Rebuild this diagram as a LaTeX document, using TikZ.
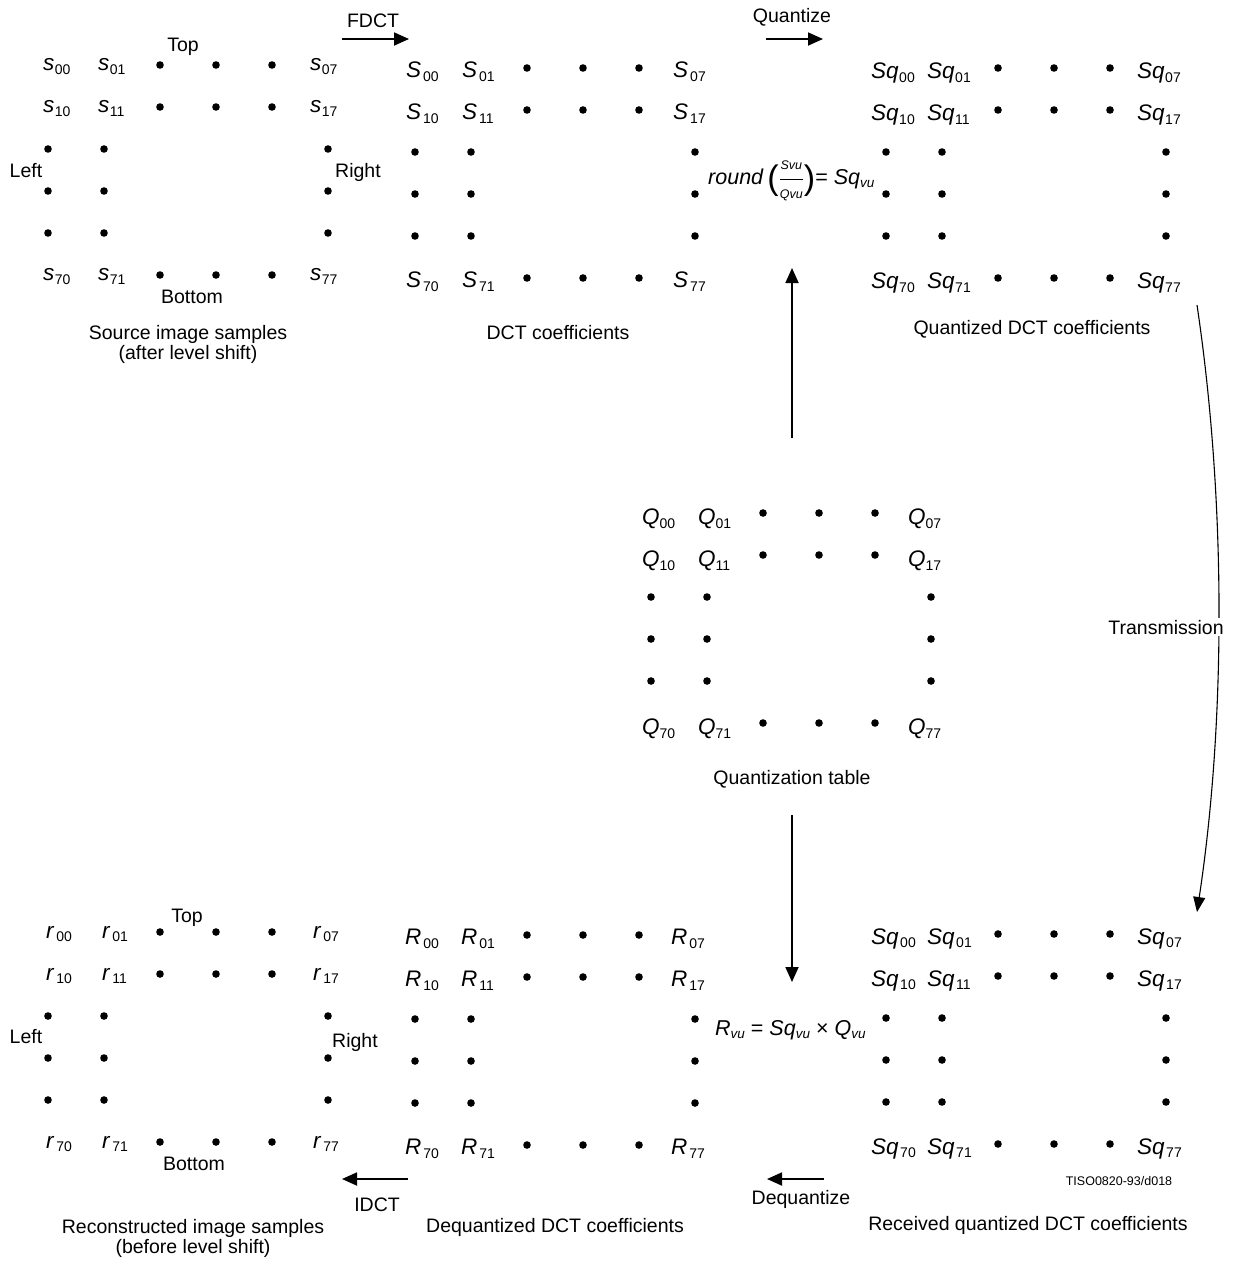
\documentclass[tikz,border=0pt]{standalone}
\usepackage{fontspec}
\setmainfont{Liberation Sans}
\usetikzlibrary{arrows.meta}
\newcommand\sbs[1]{\raisebox{-3.5pt}{\fontsize{13.5}{14}\selectfont #1}}
\newcommand\mlab[3]{{\fontsize{22.5}{24}\selectfont\itshape #1\/}\hspace{#3}\raisebox{-3.5pt}{\fontsize{14}{14}\selectfont #2}}
\tikzset{
  txt/.style={font=\fontsize{19.5}{20.5}\selectfont, inner sep=0pt},
  lab/.style={txt, anchor=base west},
  captxt/.style={txt, anchor=base},
  fml/.style={inner sep=0pt, font=\fontsize{21.5}{23}\selectfont},
  mdot/.style={circle, fill=black, inner sep=0pt, minimum size=7.6pt},
  arr/.style={line width=1.8pt, -{Triangle[length=15pt,width=13pt]}},
  tarr/.style={line width=1.1pt, -{Triangle[length=15pt,width=12pt]}},
}
% #1 name, #2 ox, #3 oy, #4 letter, #5 a, #6 b, #7 c, #8 d, #9 gap
\newcommand\drawmat[9]{%
 \foreach \rw/\ry in {0/0,1/42,7/210}{
   \foreach \cl/\cx/\off in {0/0/#5,1/56/#6,7/280/#7}{
     \node[lab] (#1-\rw\cl) at ({#2+\cx+(\off)}, {#3+\ry+#8}) {\mlab{#4}{\rw\cl}{#9}};
   }
   \foreach \cl/\cx in {2/112,3/168,4/224}{
     \node[mdot] (#1-d\rw\cl) at ({#2+\cx}, {#3+\ry}) {};
   }
 }
 \foreach \rw/\ry in {2/84,3/126,4/168}{
   \foreach \cl/\cx in {0/0,1/56,7/280}{
     \node[mdot] (#1-d\rw\cl) at ({#2+\cx}, {#3+\ry}) {};
   }
 }
}
\begin{document}
\begin{tikzpicture}[x=1pt, y=-1pt]
\useasboundingbox (0,0) rectangle (1232,1261);

% matrices
\drawmat{s}{48}{65}{s}{-5}{-6}{-18}{5.5}{0.5pt}
\drawmat{S}{415}{68}{S}{-9}{-9}{-22}{9.5}{2pt}
\drawmat{Sq}{886}{68}{Sq}{-15}{-15}{-29}{10.5}{0.5pt}
\drawmat{Q}{651}{513}{Q}{-9}{-9}{-23}{11.5}{0pt}
\drawmat{r}{48}{932}{r}{-2}{-2}{-15}{6}{2pt}
\drawmat{R}{415}{935}{R}{-10}{-10}{-24}{9.5}{2pt}
\drawmat{Sqb}{886}{934}{Sq}{-15}{-15}{-29}{10}{1.5pt}

% top-left side labels
\node[captxt] (topA) at (183,51) {Top};
\node[captxt] (leftA) at (26,177) {Left};
\node[captxt] (rightA) at (358,177) {Right};
\node[captxt] (botA) at (192,303) {Bottom};
\node[captxt] (capA1) at (188,339) {Source image samples};
\node[captxt] (capA2) at (188,359) {(after level shift)};

% top captions
\node[captxt] (fdct) at (373,27) {FDCT};
\node[captxt] (quant) at (792,22) {Quantize};
\node[captxt] (capB) at (558,339) {DCT coefficients};
\node[captxt] (capC) at (1032,334) {Quantized DCT coefficients};
\node[captxt] (capQ) at (792,784) {Quantization table};

% formulas
\node[fml, anchor=base west] (rnd) at (708,184) {\textit{round}\,\raisebox{-5pt}{\fontsize{34}{34}\selectfont(}$\displaystyle\frac{\mbox{\fontsize{12.5}{13}\selectfont\itshape Svu}}{\mbox{\fontsize{12.5}{13}\selectfont\itshape Qvu}}$\raisebox{-5pt}{\fontsize{34}{34}\selectfont)}= \textit{Sq}\sbs{\itshape vu}};
\node[fml, anchor=base west] (rvu) at (715,1035) {\textit{R}\sbs{\itshape vu} = \textit{Sq}\sbs{\itshape vu} × \textit{Q}\sbs{\itshape vu}};

% bottom-left side labels
\node[captxt] (topD) at (187,922) {Top};
\node[captxt] (leftD) at (26,1043) {Left};
\node[captxt] (rightD) at (355,1047) {Right};
\node[captxt] (botD) at (194,1170) {Bottom};
\node[captxt] (capD1) at (193,1233) {Reconstructed image samples};
\node[captxt] (capD2) at (193,1253) {(before level shift)};

% bottom captions
\node[captxt] (idct) at (377,1211) {IDCT};
\node[captxt] (dequant) at (801,1204) {Dequantize};
\node[captxt] (capE) at (555,1232) {Dequantized DCT coefficients};
\node[captxt] (capF) at (1028,1230) {Received quantized DCT coefficients};
\node[captxt, font=\fontsize{12.5}{13}\selectfont] (tiso) at (1119,1185) {TISO0820-93/d018};

% arrow end points
\coordinate (fdA) at (342,39);   \coordinate (fdB) at (409,39);
\coordinate (quA) at (766,39);   \coordinate (quB) at (823,39);
\coordinate (upA) at (792,438);  \coordinate (upB) at (792,268);
\coordinate (dnA) at (792,815);  \coordinate (dnB) at (792,982);
\coordinate (deA) at (824,1179); \coordinate (deB) at (767,1179);
\coordinate (idA) at (408,1179); \coordinate (idB) at (342,1179);
\coordinate (trA) at (1197,305); \coordinate (trB) at (1197,912);

\draw[arr] (fdA) -- (fdB);
\draw[arr] (quA) -- (quB);
\draw[arr] (upA) -- (upB);
\draw[arr] (dnA) -- (dnB);
\draw[arr] (deA) -- (deB);
\draw[arr] (idA) -- (idB);
\draw[tarr] (trA) .. controls (1226,500) and (1226,720) .. (trB);
\node[captxt, fill=white, inner sep=2pt] (trans) at (1166,634) {Transmission};
\end{tikzpicture}
\end{document}
